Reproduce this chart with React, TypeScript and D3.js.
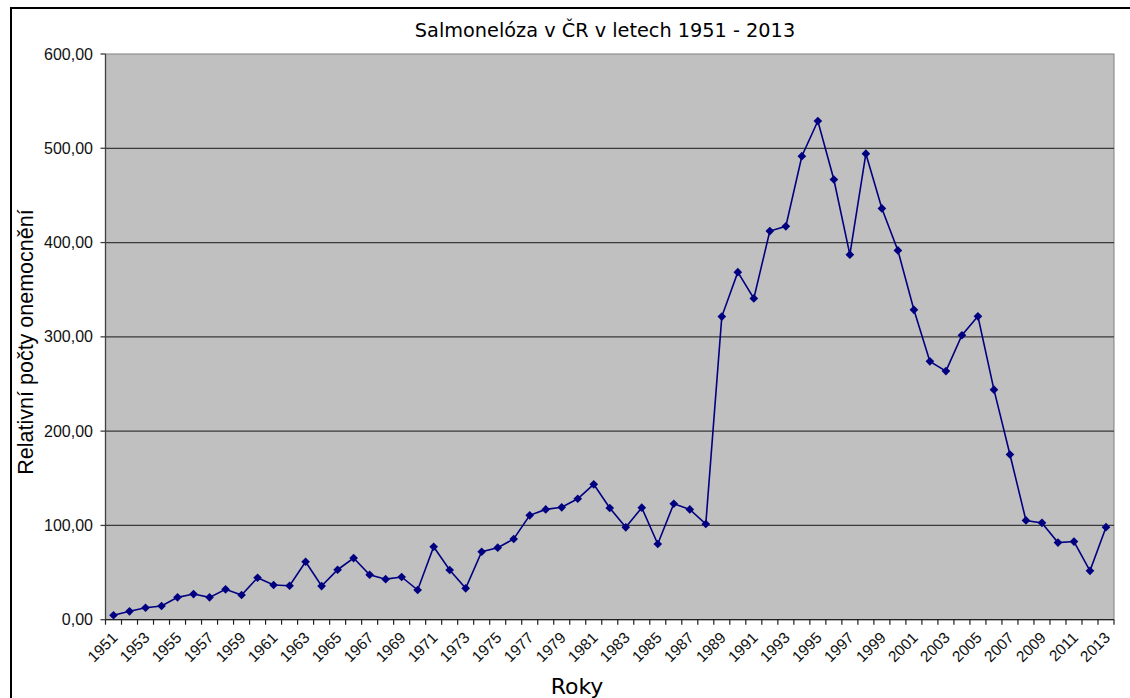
import React from "react";
import * as d3 from "d3";

const years: number[] = [
  1951, 1952, 1953, 1954, 1955, 1956, 1957, 1958, 1959, 1960,
  1961, 1962, 1963, 1964, 1965, 1966, 1967, 1968, 1969, 1970,
  1971, 1972, 1973, 1974, 1975, 1976, 1977, 1978, 1979, 1980,
  1981, 1982, 1983, 1984, 1985, 1986, 1987, 1988, 1989, 1990,
  1991, 1992, 1993, 1994, 1995, 1996, 1997, 1998, 1999, 2000,
  2001, 2002, 2003, 2004, 2005, 2006, 2007, 2008, 2009, 2010,
  2011, 2012, 2013,
];

const values: number[] = [
  4.7, 8.9, 12.7, 14.5, 23.7, 27.2, 23.7, 32.2, 26.2, 44.5,
  36.8, 36.0, 61.5, 35.7, 53.0, 65.4, 47.7, 43.0, 45.3, 31.5,
  77.4, 52.7, 33.3, 72.1, 76.4, 85.6, 110.7, 117.0, 119.2, 128.3,
  143.6, 118.5, 98.0, 118.8, 80.3, 123.0, 117.0, 101.5, 321.5, 368.6,
  340.8, 412.2, 417.2, 491.6, 528.9, 466.9, 387.2, 494.3, 436.2, 391.7,
  328.7, 274.0, 263.7, 301.7, 321.8, 244.0, 175.2, 105.3, 102.7, 81.8,
  82.9, 51.8, 98.1,
];

const yTicks: number[] = [0, 100, 200, 300, 400, 500, 600];
const labelYears: number[] = years.filter((_, i) => i % 2 === 0);

const title = "Salmonelóza v ČR v letech 1951 - 2013";
const yTitle = "Relativní počty onemocnění";
const xTitle = "Roky";

export default function App() {
  const W = 1130;
  const H = 698;
  const left = 105.5;
  const right = 1114;
  const top = 54;
  const bottom = 619.7;

  const x = d3.scaleBand<number>().domain(years).range([left, right]).padding(0);
  const y = d3.scaleLinear().domain([0, 600]).range([bottom, top]);
  const cx = (yr: number) => (x(yr) as number) + x.bandwidth() / 2;

  const line = d3
    .line<number>()
    .x((_, i) => cx(years[i]))
    .y((d) => y(d));

  const fmt = (v: number) => v.toFixed(2).replace(".", ",");
  const diamond = d3.symbol().type(d3.symbolDiamond2).size(48)();
  const bandEdges = years.map((yr) => x(yr) as number).concat([right]);

  return (
    <svg
      width={W}
      height={H}
      style={{ position: "absolute", left: 0, top: 0, background: "#fff" }}
    >
      <rect x={11} y={8} width={1140} height={720} fill="#fff" stroke="#000" strokeWidth={2} />
      <text
        x={605}
        y={37}
        textAnchor="middle"
        fontFamily="DejaVu Sans, Verdana, sans-serif"
        fontSize={19.3}
        fill="#000"
      >
        {title}
      </text>
      {/* plot area */}
      <rect x={left} y={top} width={right - left} height={bottom - top} fill="#c0c0c0" stroke="#808080" strokeWidth={1} />
      {/* gridlines */}
      {yTicks
        .filter((t) => t > 0 && t < 600)
        .map((t) => (
          <line key={t} x1={left} x2={right} y1={y(t)} y2={y(t)} stroke="#3a3a3a" strokeWidth={1.3} />
        ))}
      {/* axes */}
      <line x1={left} x2={left} y1={top} y2={bottom} stroke="#404040" strokeWidth={1.3} />
      <line x1={left} x2={right} y1={bottom} y2={bottom} stroke="#202020" strokeWidth={1.3} />
      {yTicks.map((t) => (
        <g key={t}>
          <line x1={left - 5} x2={left} y1={y(t)} y2={y(t)} stroke="#404040" strokeWidth={1.3} />
          <text
            x={93}
            y={y(t)}
            dy="0.35em"
            textAnchor="end"
            fontFamily="Liberation Sans, Arial, sans-serif"
            fontSize={16}
            fill="#111"
          >
            {fmt(t)}
          </text>
        </g>
      ))}
      {bandEdges.map((e, i) => (
        <line key={i} x1={e} x2={e} y1={bottom} y2={bottom + 5} stroke="#202020" strokeWidth={1.2} />
      ))}
      {labelYears.map((yr) => (
        <text
          key={yr}
          transform={`translate(${cx(yr) + 5},${bottom + 19}) rotate(-45)`}
          textAnchor="end"
          fontFamily="Liberation Sans, Arial, sans-serif"
          fontSize={15.5}
          fill="#111"
        >
          {yr}
        </text>
      ))}
      {/* series */}
      <path d={line(values) || ""} fill="none" stroke="#000080" strokeWidth={1.6} />
      {values.map((v, i) => (
        <path key={i} d={diamond || ""} transform={`translate(${cx(years[i])},${y(v)})`} fill="#000080" />
      ))}
      <text
        transform={`translate(33,${342}) rotate(-90)`}
        textAnchor="middle"
        fontFamily="Liberation Sans, Arial, sans-serif"
        fontSize={21.5}
        fill="#000"
      >
        {yTitle}
      </text>
      <text
        x={577}
        y={694}
        textAnchor="middle"
        fontFamily="DejaVu Sans, Verdana, sans-serif"
        fontSize={22}
        fill="#000"
      >
        {xTitle}
      </text>
    </svg>
  );
}
